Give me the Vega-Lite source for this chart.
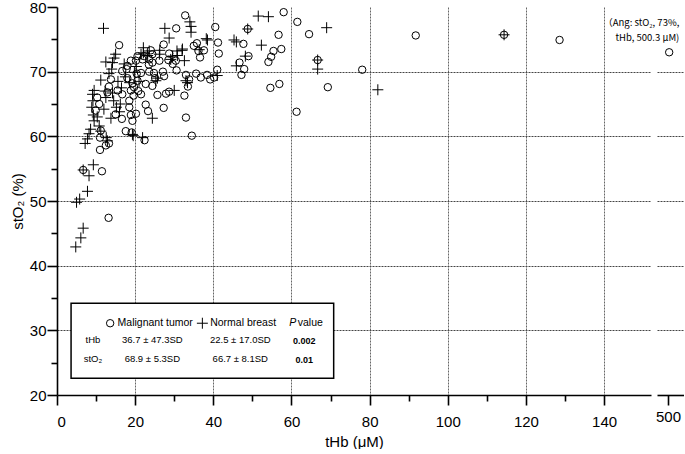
{
  "$schema": "https://vega.github.io/schema/vega-lite/v6.json",
  "padding": {"left": 10, "top": 0, "right": 0, "bottom": 0},
  "background": "white",
  "bounds": "flush",
  "spacing": 6,
  "config": {
    "view": {"stroke": null},
    "font": "Arial, Liberation Sans, sans-serif",
    "axis": {
      "domainColor": "black", "domainWidth": 1.6,
      "tickColor": "black", "tickWidth": 1.6,
      "labelColor": "black", "labelFont": "Arial, Liberation Sans, sans-serif", "labelFontSize": 15,
      "titleColor": "black", "titleFont": "Arial, Liberation Sans, sans-serif", "titleFontSize": 15, "titleFontWeight": "normal",
      "gridColor": "#444", "gridDash": [2, 1], "gridWidth": 1
    }
  },
  "datasets": {
    "pts": [
      {"g":"M","tHb":91.8,"stO2":75.6},{"g":"M","tHb":114.4,"stO2":75.7},{"g":"M","tHb":128.6,"stO2":74.9},{"g":"M","tHb":500.3,"stO2":73.0},
      {"g":"M","tHb":78.1,"stO2":70.3},{"g":"M","tHb":69.3,"stO2":67.6},{"g":"M","tHb":61.3,"stO2":63.8},{"g":"M","tHb":58.0,"stO2":79.2},
      {"g":"M","tHb":61.5,"stO2":77.7},{"g":"M","tHb":64.5,"stO2":75.8},{"g":"M","tHb":56.7,"stO2":75.7},{"g":"M","tHb":57.4,"stO2":73.5},
      {"g":"M","tHb":55.4,"stO2":73.2},{"g":"M","tHb":54.8,"stO2":72.3},{"g":"M","tHb":54.1,"stO2":71.5},{"g":"M","tHb":54.6,"stO2":67.5},
      {"g":"M","tHb":56.9,"stO2":68.1},{"g":"M","tHb":48.8,"stO2":76.6},{"g":"M","tHb":49.0,"stO2":72.4},{"g":"M","tHb":66.7,"stO2":71.8},
      {"g":"M","tHb":47.7,"stO2":74.3},{"g":"M","tHb":46.7,"stO2":71.4},{"g":"M","tHb":47.9,"stO2":70.4},{"g":"M","tHb":47.2,"stO2":69.5},
      {"g":"M","tHb":40.5,"stO2":76.9},{"g":"M","tHb":41.2,"stO2":74.5},{"g":"M","tHb":41.4,"stO2":72.8},{"g":"M","tHb":41.0,"stO2":70.3},
      {"g":"M","tHb":40.2,"stO2":69.1},{"g":"M","tHb":39.2,"stO2":68.8},{"g":"M","tHb":38.4,"stO2":69.5},{"g":"M","tHb":36.8,"stO2":69.1},
      {"g":"M","tHb":35.6,"stO2":69.7},{"g":"M","tHb":33.0,"stO2":69.5},{"g":"M","tHb":33.8,"stO2":68.8},{"g":"M","tHb":33.5,"stO2":67.7},
      {"g":"M","tHb":32.6,"stO2":66.3},{"g":"M","tHb":33.0,"stO2":62.9},{"g":"M","tHb":34.5,"stO2":60.1},{"g":"M","tHb":32.8,"stO2":78.7},
      {"g":"M","tHb":30.5,"stO2":76.7},{"g":"M","tHb":27.3,"stO2":74.2},{"g":"M","tHb":35.0,"stO2":74.0},{"g":"M","tHb":35.8,"stO2":74.4},
      {"g":"M","tHb":36.2,"stO2":73.2},{"g":"M","tHb":37.6,"stO2":73.3},{"g":"M","tHb":36.6,"stO2":72.2},{"g":"M","tHb":30.4,"stO2":71.7},
      {"g":"M","tHb":29.6,"stO2":71.2},{"g":"M","tHb":28.5,"stO2":71.8},{"g":"M","tHb":28.7,"stO2":72.8},{"g":"M","tHb":26.2,"stO2":71.7},
      {"g":"M","tHb":24.0,"stO2":73.3},{"g":"M","tHb":24.4,"stO2":72.7},{"g":"M","tHb":22.3,"stO2":72.4},{"g":"M","tHb":20.6,"stO2":72.4},
      {"g":"M","tHb":20.2,"stO2":71.7},{"g":"M","tHb":23.6,"stO2":71.9},{"g":"M","tHb":24.4,"stO2":71.4},{"g":"M","tHb":23.5,"stO2":71.1},
      {"g":"M","tHb":21.9,"stO2":71.9},{"g":"M","tHb":20.4,"stO2":69.7},{"g":"M","tHb":21.5,"stO2":69.8},{"g":"M","tHb":23.6,"stO2":70.0},
      {"g":"M","tHb":24.8,"stO2":69.8},{"g":"M","tHb":27.1,"stO2":70.0},{"g":"M","tHb":27.4,"stO2":69.3},{"g":"M","tHb":25.1,"stO2":69.0},
      {"g":"M","tHb":30.6,"stO2":70.2},{"g":"M","tHb":22.7,"stO2":68.1},{"g":"M","tHb":24.4,"stO2":67.8},{"g":"M","tHb":19.7,"stO2":67.6},
      {"g":"M","tHb":20.6,"stO2":68.6},{"g":"M","tHb":25.7,"stO2":66.4},{"g":"M","tHb":27.9,"stO2":66.6},{"g":"M","tHb":28.7,"stO2":66.9},
      {"g":"M","tHb":21.5,"stO2":66.5},{"g":"M","tHb":22.7,"stO2":64.9},{"g":"M","tHb":23.3,"stO2":63.9},{"g":"M","tHb":27.3,"stO2":64.4},
      {"g":"M","tHb":22.4,"stO2":59.4},{"g":"M","tHb":17.6,"stO2":60.8},{"g":"M","tHb":19.1,"stO2":60.6},{"g":"M","tHb":19.3,"stO2":62.4},
      {"g":"M","tHb":20.2,"stO2":63.5},{"g":"M","tHb":16.6,"stO2":62.7},{"g":"M","tHb":15.0,"stO2":63.4},{"g":"M","tHb":15.9,"stO2":74.1},
      {"g":"M","tHb":18.0,"stO2":70.9},{"g":"M","tHb":18.9,"stO2":71.7},{"g":"M","tHb":16.7,"stO2":70.1},{"g":"M","tHb":17.8,"stO2":70.4},
      {"g":"M","tHb":18.0,"stO2":69.0},{"g":"M","tHb":19.3,"stO2":68.2},{"g":"M","tHb":18.9,"stO2":67.1},{"g":"M","tHb":19.6,"stO2":66.3},
      {"g":"M","tHb":20.8,"stO2":67.0},{"g":"M","tHb":16.7,"stO2":66.5},{"g":"M","tHb":18.5,"stO2":65.5},{"g":"M","tHb":18.5,"stO2":64.5},
      {"g":"M","tHb":18.9,"stO2":63.3},{"g":"M","tHb":15.5,"stO2":67.1},{"g":"M","tHb":13.8,"stO2":68.8},{"g":"M","tHb":13.3,"stO2":67.7},
      {"g":"M","tHb":12.9,"stO2":66.8},{"g":"M","tHb":10.3,"stO2":66.0},{"g":"M","tHb":10.8,"stO2":65.0},{"g":"M","tHb":9.9,"stO2":64.0},
      {"g":"M","tHb":11.0,"stO2":57.9},{"g":"M","tHb":12.5,"stO2":58.6},{"g":"M","tHb":13.3,"stO2":58.9},{"g":"M","tHb":11.5,"stO2":54.6},
      {"g":"M","tHb":6.7,"stO2":54.8},{"g":"M","tHb":13.2,"stO2":47.4},{"g":"M","tHb":11.2,"stO2":60.9},{"g":"M","tHb":11.0,"stO2":59.8},
      {"g":"N","tHb":114.4,"stO2":75.7},{"g":"N","tHb":69.0,"stO2":76.8},{"g":"N","tHb":82.1,"stO2":67.2},{"g":"N","tHb":66.7,"stO2":70.4},
      {"g":"N","tHb":66.7,"stO2":71.8},{"g":"N","tHb":51.5,"stO2":78.6},{"g":"N","tHb":54.1,"stO2":78.5},{"g":"N","tHb":48.8,"stO2":76.6},
      {"g":"N","tHb":45.3,"stO2":74.9},{"g":"N","tHb":45.9,"stO2":74.6},{"g":"N","tHb":52.3,"stO2":74.1},{"g":"N","tHb":48.2,"stO2":72.4},
      {"g":"N","tHb":45.9,"stO2":70.9},{"g":"N","tHb":34.0,"stO2":77.7},{"g":"N","tHb":34.3,"stO2":77.0},{"g":"N","tHb":34.3,"stO2":76.1},
      {"g":"N","tHb":38.5,"stO2":74.9},{"g":"N","tHb":27.6,"stO2":76.7},{"g":"N","tHb":28.7,"stO2":75.2},{"g":"N","tHb":11.9,"stO2":76.7},
      {"g":"N","tHb":15.0,"stO2":72.7},{"g":"N","tHb":14.6,"stO2":72.1},{"g":"N","tHb":14.2,"stO2":71.4},{"g":"N","tHb":12.5,"stO2":71.5},
      {"g":"N","tHb":17.2,"stO2":71.2},{"g":"N","tHb":14.0,"stO2":70.4},{"g":"N","tHb":13.3,"stO2":69.7},{"g":"N","tHb":11.2,"stO2":68.7},
      {"g":"N","tHb":22.1,"stO2":73.7},{"g":"N","tHb":21.5,"stO2":72.7},{"g":"N","tHb":23.2,"stO2":72.5},{"g":"N","tHb":26.3,"stO2":73.3},
      {"g":"N","tHb":29.6,"stO2":72.4},{"g":"N","tHb":30.7,"stO2":73.2},{"g":"N","tHb":32.0,"stO2":73.3},{"g":"N","tHb":32.6,"stO2":71.7},
      {"g":"N","tHb":30.0,"stO2":67.1},{"g":"N","tHb":24.4,"stO2":62.8},{"g":"N","tHb":19.3,"stO2":60.3},{"g":"N","tHb":21.9,"stO2":59.8},
      {"g":"N","tHb":9.1,"stO2":66.5},{"g":"N","tHb":9.2,"stO2":65.5},{"g":"N","tHb":8.9,"stO2":64.5},{"g":"N","tHb":9.5,"stO2":67.1},
      {"g":"N","tHb":12.3,"stO2":67.0},{"g":"N","tHb":12.5,"stO2":66.0},{"g":"N","tHb":9.3,"stO2":63.3},{"g":"N","tHb":9.5,"stO2":62.4},
      {"g":"N","tHb":8.6,"stO2":61.1},{"g":"N","tHb":8.2,"stO2":60.4},{"g":"N","tHb":7.8,"stO2":59.6},{"g":"N","tHb":7.2,"stO2":58.9},
      {"g":"N","tHb":10.8,"stO2":61.6},{"g":"N","tHb":11.2,"stO2":60.8},{"g":"N","tHb":12.6,"stO2":59.8},{"g":"N","tHb":12.9,"stO2":59.3},
      {"g":"N","tHb":23.6,"stO2":73.2},{"g":"N","tHb":26.2,"stO2":72.7},{"g":"N","tHb":29.1,"stO2":71.9},{"g":"N","tHb":30.8,"stO2":72.5},
      {"g":"N","tHb":25.7,"stO2":69.0},{"g":"N","tHb":25.3,"stO2":68.6},{"g":"N","tHb":33.0,"stO2":68.6},{"g":"N","tHb":33.4,"stO2":68.3},
      {"g":"N","tHb":41.0,"stO2":69.4},{"g":"N","tHb":36.4,"stO2":73.4},{"g":"N","tHb":38.2,"stO2":75.1},{"g":"N","tHb":32.1,"stO2":73.5},
      {"g":"N","tHb":22.1,"stO2":72.9},{"g":"N","tHb":6.7,"stO2":54.8},{"g":"N","tHb":9.3,"stO2":55.6},{"g":"N","tHb":8.2,"stO2":53.9},
      {"g":"N","tHb":7.8,"stO2":51.5},{"g":"N","tHb":5.8,"stO2":50.3},{"g":"N","tHb":5.0,"stO2":49.8},{"g":"N","tHb":6.7,"stO2":45.8},
      {"g":"N","tHb":6.1,"stO2":44.3},{"g":"N","tHb":4.8,"stO2":42.9},{"g":"N","tHb":19.5,"stO2":60.1},{"g":"N","tHb":15.6,"stO2":68.5},
      {"g":"N","tHb":16.5,"stO2":67.5},{"g":"N","tHb":14.5,"stO2":65.5},{"g":"N","tHb":15.2,"stO2":64.5},{"g":"N","tHb":16.0,"stO2":63.8},
      {"g":"N","tHb":13.8,"stO2":62.8},{"g":"N","tHb":14.2,"stO2":66.7},{"g":"N","tHb":17.5,"stO2":69.2},{"g":"N","tHb":18.6,"stO2":68.3},
      {"g":"N","tHb":19.8,"stO2":69.9},{"g":"N","tHb":20.3,"stO2":70.8},{"g":"N","tHb":12.0,"stO2":64.2},{"g":"N","tHb":10.3,"stO2":63.0},
      {"g":"N","tHb":21.0,"stO2":68.5},{"g":"N","tHb":16.2,"stO2":65.0}
    ],
    "legendBox": [{"tHb": 3.6, "tHb2": 70.8, "stO2": 34.2, "stO2b": 22.6}],
    "legendSym": [{"g": "M", "tHb": 13.6, "stO2": 31.1}, {"g": "N", "tHb": 37.2, "stO2": 31.1}],
    "legendHeader": [
      {"tHb": 15.5, "stO2": 31.1, "text": "Malignant tumor"},
      {"tHb": 39.2, "stO2": 31.1, "text": "Normal breast"},
      {"tHb": 61.6, "stO2": 31.1, "text": "value"}
    ],
    "legendItalic": [{"tHb": 59.4, "stO2": 31.1, "text": "P"}],
    "legendRows": [
      {"tHb": 9.2, "stO2": 28.5, "text": "tHb"},
      {"tHb": 9.2, "stO2": 25.5, "text": "stO₂"},
      {"tHb": 24.4, "stO2": 28.5, "text": "36.7 ± 47.3SD"},
      {"tHb": 24.4, "stO2": 25.5, "text": "68.9 ± 5.3SD"},
      {"tHb": 46.9, "stO2": 28.5, "text": "22.5 ± 17.0SD"},
      {"tHb": 46.9, "stO2": 25.5, "text": "66.7 ± 8.1SD"}
    ],
    "legendP": [
      {"tHb": 63.3, "stO2": 28.4, "text": "0.002"},
      {"tHb": 63.3, "stO2": 25.4, "text": "0.01"}
    ],
    "annot": [
      {"tHb": 502.9, "stO2": 77.5, "text": "（Ang: stO₂, 73%,"},
      {"tHb": 502.9, "stO2": 75.2, "text": "tHb, 500.3 μM)"}
    ]
  },
  "hconcat": [
    {
      "width": 594,
      "height": 388,
      "encoding": {
        "x": {
          "field": "tHb", "type": "quantitative",
          "scale": {"domain": [0, 152], "nice": false, "zero": false},
          "axis": {
            "title": "tHb (μM)",
            "values": [0, 10, 20, 30, 40, 50, 60, 70, 80, 90, 100, 110, 120, 130, 140],
            "labelExpr": "datum.value % 20 === 0 ? datum.label : ''",
            "tickSize": {"condition": {"test": "datum.value % 20 === 0", "value": 10}, "value": 6},
            "grid": true,
            "gridColor": "#666",
            "gridOpacity": {"condition": {"test": "datum.value % 20 === 0 && datum.value > 0", "value": 1}, "value": 0},
            "labelPadding": 9,
            "titlePadding": 5
          }
        },
        "y": {
          "field": "stO2", "type": "quantitative",
          "scale": {"domain": [20, 80], "nice": false, "zero": false},
          "axis": {
            "title": "stO₂ (%)",
            "values": [20, 25, 30, 35, 40, 45, 50, 55, 60, 65, 70, 75, 80],
            "labelExpr": "datum.value % 10 === 0 ? datum.label : ''",
            "tickSize": {"condition": {"test": "datum.value % 10 === 0", "value": 10}, "value": 6},
            "grid": true,
            "gridOpacity": {"condition": {"test": "datum.value % 10 === 0 && datum.value > 20 && datum.value < 80", "value": 1}, "value": 0},
            "labelPadding": 1,
            "titlePadding": 4
          }
        }
      },
      "layer": [
        {
          "data": {"name": "legendBox"},
          "mark": {"type": "rect", "fill": "white", "stroke": "black", "strokeWidth": 1.5},
          "encoding": {"x2": {"field": "tHb2"}, "y2": {"field": "stO2b"}}
        },
        {
          "data": {"name": "pts"},
          "transform": [{"filter": "datum.g === 'M' && datum.tHb < 400"}],
          "mark": {"type": "point", "shape": "circle", "filled": false, "size": 55, "stroke": "black", "strokeWidth": 1, "opacity": 1}
        },
        {
          "data": {"name": "pts"},
          "transform": [{"filter": "datum.g === 'N' && datum.tHb < 400"}],
          "mark": {"type": "point", "shape": "M-1,0L1,0M0,-1L0,1", "filled": false, "size": 121, "stroke": "black", "strokeWidth": 1, "opacity": 1}
        },
        {
          "data": {"name": "legendSym"},
          "transform": [{"filter": "datum.g === 'M'"}],
          "mark": {"type": "point", "shape": "circle", "filled": false, "size": 55, "stroke": "black", "strokeWidth": 1, "opacity": 1}
        },
        {
          "data": {"name": "legendSym"},
          "transform": [{"filter": "datum.g === 'N'"}],
          "mark": {"type": "point", "shape": "M-1,0L1,0M0,-1L0,1", "filled": false, "size": 121, "stroke": "black", "strokeWidth": 1, "opacity": 1}
        },
        {
          "data": {"name": "legendHeader"},
          "mark": {"type": "text", "align": "left", "baseline": "middle", "fontSize": 10.5, "color": "black"},
          "encoding": {"text": {"field": "text"}}
        },
        {
          "data": {"name": "legendItalic"},
          "mark": {"type": "text", "align": "left", "baseline": "middle", "fontSize": 10.5, "fontStyle": "italic", "color": "black"},
          "encoding": {"text": {"field": "text"}}
        },
        {
          "data": {"name": "legendRows"},
          "mark": {"type": "text", "align": "center", "baseline": "middle", "fontSize": 9.5, "color": "black"},
          "encoding": {"text": {"field": "text"}}
        },
        {
          "data": {"name": "legendP"},
          "mark": {"type": "text", "align": "center", "baseline": "middle", "fontSize": 9, "fontWeight": "bold", "color": "black"},
          "encoding": {"text": {"field": "text"}}
        }
      ]
    },
    {
      "width": 27,
      "height": 388,
      "encoding": {
        "x": {
          "field": "tHb", "type": "quantitative",
          "scale": {"domain": [497.18, 504.1], "nice": false, "zero": false},
          "axis": {"title": null, "values": [500], "grid": false, "tickSize": 10, "labelPadding": 4}
        },
        "y": {
          "field": "stO2", "type": "quantitative",
          "scale": {"domain": [20, 80], "nice": false, "zero": false},
          "axis": {
            "title": null, "labels": false, "ticks": false, "domain": false,
            "values": [30, 40, 50, 60, 70], "grid": true
          }
        }
      },
      "layer": [
        {
          "data": {"name": "pts"},
          "transform": [{"filter": "datum.tHb > 400"}],
          "mark": {"type": "point", "shape": "circle", "filled": false, "size": 55, "stroke": "black", "strokeWidth": 1, "opacity": 1}
        },
        {
          "data": {"name": "annot"},
          "mark": {"type": "text", "align": "right", "baseline": "middle", "fontSize": 9.5, "font": "Noto Sans CJK JP", "color": "black"},
          "encoding": {"text": {"field": "text"}}
        }
      ]
    }
  ]
}
